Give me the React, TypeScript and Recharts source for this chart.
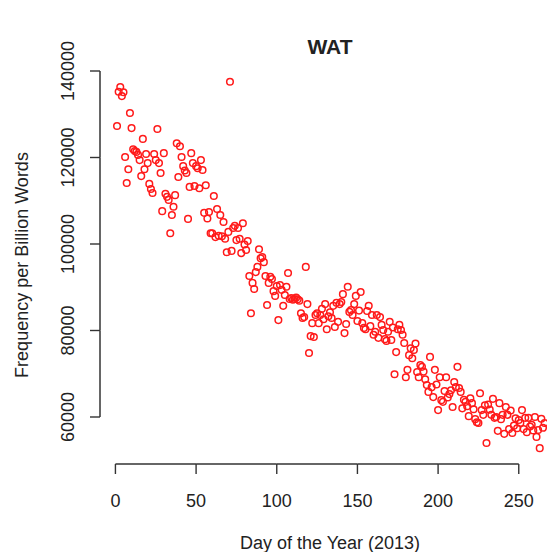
import React from 'react';
import { ScatterChart, Scatter, XAxis, YAxis } from 'recharts';

// Frequency per billion words, one value per day of 2013, grouped by month
const jan = [
  127300, 135200, 136300, 134200, 135100, 120100, 114100, 117300, 130300, 126800,
  121900, 121500, 121300, 120600, 119400, 115700, 124300, 117300, 120800, 118700,
  113900, 112700, 111800, 120800, 119400, 126600, 118700, 116400, 107600, 121000,
  111600,
];
const feb = [
  110900, 110200, 102500, 106700, 108600, 111300, 123300, 115500, 122600, 120100,
  118000, 117000, 116400, 105800, 113200, 121000, 118700, 113400, 118000, 117500,
  112900, 119400, 117100, 107200, 113600, 105900, 107400, 102500,
];
const mar = [
  102500, 111100, 101600, 108100, 101900, 106700, 101800, 105100, 101200, 98100,
  102800, 137500, 98400, 103700, 104200, 100900, 103700, 101200, 97900, 104800,
  99900, 98600, 100700, 92600, 84000, 91000, 89600, 93500, 94700, 98800,
  96700,
];
const apr = [
  97000, 95800, 92600, 85900, 91000, 92400, 91900, 89100, 88000, 90300,
  82400, 90500, 89400, 85700, 88200, 90100, 93300, 87300, 87500, 87100,
  87300, 87600, 87200, 86900, 84000, 82900, 83100, 94700, 86100, 74800,
];
const may = [
  78700, 81700, 78500, 83600, 84000, 81700, 83600, 85000, 82600, 86100,
  80300, 83300, 84200, 82900, 85700, 80800, 86400, 82000, 86100, 86600,
  88400, 79400, 81500, 90100, 84300, 84700, 83600, 86100, 88000, 82200,
  84600,
];
const jun = [
  88900, 81700, 80600, 80300, 84500, 85700, 81000, 83600, 79000, 79700,
  83600, 78300, 83100, 81300, 80100, 78000, 77600, 79700, 82000, 77800,
  80700, 69900, 75000, 80300, 81300, 80100, 79000, 77100, 69200, 70900,
];
const jul = [
  74300, 75900, 73600, 75500, 77000, 70400, 69200, 72000, 71600, 70500,
  68700, 67400, 65800, 73900, 66900, 64600, 70900, 67500, 61600, 69200,
  63900, 63500, 66000, 69200, 64500, 65300, 66200, 62300, 68100, 66900,
  71600,
];
const aug = [
  66700, 65800, 62000, 64000, 63500, 62500, 60200, 64300, 63200, 61800,
  59500, 58800, 58600, 65500, 61600, 60500, 62700, 54000, 62900, 61700,
  60500, 64200, 59800, 60000, 56800, 63200, 59500, 60500, 56100, 62300,
  60500,
];
const sep = [
  57200, 61500, 56300, 58000, 59700, 57400, 59300, 58600, 61600, 57200,
  59800, 56500, 59800, 57800, 58200, 56900, 60000, 55400, 57000, 52800,
  59600, 57500, 58600,
];

const xTicks = [0, 50, 100, 150, 200, 250];
const yTicks = [60000, 80000, 100000, 120000, 140000];

const data = [jan, feb, mar, apr, may, jun, jul, aug, sep]
  .flat()
  .map((v, i) => ({ day: i + 1, freq: v }));

const X_DOMAIN: [number, number] = [-9.56, 275.56];
const Y_DOMAIN: [number, number] = [49133, 141387];

// chart 560x552; left axis band 100, top margin 65, bottom axis band 88
const CHART_W = 560;
const CHART_H = 552;
const LEFT = 100;
const TOP = 65;
const BOTTOM = 88;
const PLOT_W = CHART_W - LEFT;
const PLOT_H = CHART_H - TOP - BOTTOM;

// pixel distance between neighbouring ticks (evenly spaced), used to draw
// base-R style axis lines that run only from the first to the last tick
const xStep = ((xTicks[1] - xTicks[0]) / (X_DOMAIN[1] - X_DOMAIN[0])) * PLOT_W;
const yStep = ((yTicks[1] - yTicks[0]) / (Y_DOMAIN[1] - Y_DOMAIN[0])) * PLOT_H;

const FONT = '"Liberation Sans", Arial, Helvetica, sans-serif';
const INK = '#222';
const AXIS = '#333';

// default tick anchor sits 8px (tickSize 6 + margin 2) away from the axis line
const XTick = (props: any) => {
  const { x, y, payload } = props;
  const axisY = y - 8;
  const isLast = payload.value === xTicks[xTicks.length - 1];
  return (
    <g>
      {!isLast && (
        <line x1={x} y1={axisY} x2={x + xStep} y2={axisY} stroke={AXIS} strokeWidth={1.5} />
      )}
      <line x1={x} y1={axisY} x2={x} y2={axisY + 10} stroke={AXIS} strokeWidth={1.4} />
      <text x={x} y={y + 35} textAnchor="middle" fontSize={18} fill={INK} fontFamily={FONT}>
        {payload.value}
      </text>
    </g>
  );
};

const YTick = (props: any) => {
  const { x, y, payload } = props;
  const axisX = x + 8;
  const isLast = payload.value === yTicks[yTicks.length - 1];
  const tx = x - 18;
  return (
    <g>
      {!isLast && (
        <line x1={axisX} y1={y} x2={axisX} y2={y - yStep} stroke={AXIS} strokeWidth={1.5} />
      )}
      <line x1={axisX - 10} y1={y} x2={axisX} y2={y} stroke={AXIS} strokeWidth={1.4} />
      <text
        x={tx}
        y={y}
        transform={`rotate(-90 ${tx} ${y})`}
        textAnchor="middle"
        fontSize={18}
        fill={INK}
        fontFamily={FONT}
      >
        {payload.value}
      </text>
    </g>
  );
};

const Ring = (props: any) => (
  <circle cx={props.cx} cy={props.cy} r={3.3} fill="none" stroke="#ff1a1a" strokeWidth={1.5} />
);

export default function App() {
  return (
    <div
      style={{
        position: 'absolute',
        left: 0,
        top: 0,
        width: 547,
        height: 552,
        overflow: 'hidden',
        background: '#fff',
        fontFamily: FONT,
        color: INK,
      }}
    >
      <ScatterChart width={CHART_W} height={CHART_H} margin={{ top: TOP, right: 0, bottom: 0, left: 0 }}>
        <XAxis
          type="number"
          dataKey="day"
          domain={X_DOMAIN}
          ticks={xTicks}
          height={BOTTOM}
          axisLine={false}
          tickLine={false}
          tick={XTick}
        />
        <YAxis
          type="number"
          dataKey="freq"
          domain={Y_DOMAIN}
          ticks={yTicks}
          width={LEFT}
          axisLine={false}
          tickLine={false}
          tick={YTick}
        />
        <Scatter data={data} shape={Ring} isAnimationActive={false} />
      </ScatterChart>
      <div
        style={{
          position: 'absolute',
          left: 330,
          top: 47,
          transform: 'translate(-50%, -50%)',
          fontWeight: 'bold',
          fontSize: 21,
          whiteSpace: 'nowrap',
        }}
      >
        WAT
      </div>
      <div
        style={{
          position: 'absolute',
          left: 330,
          top: 543,
          transform: 'translate(-50%, -50%)',
          fontSize: 18,
          whiteSpace: 'nowrap',
        }}
      >
        Day of the Year (2013)
      </div>
      <div
        style={{
          position: 'absolute',
          left: 22,
          top: 265,
          transform: 'translate(-50%, -50%) rotate(-90deg)',
          fontSize: 18,
          whiteSpace: 'nowrap',
        }}
      >
        Frequency per Billion Words
      </div>
    </div>
  );
}
